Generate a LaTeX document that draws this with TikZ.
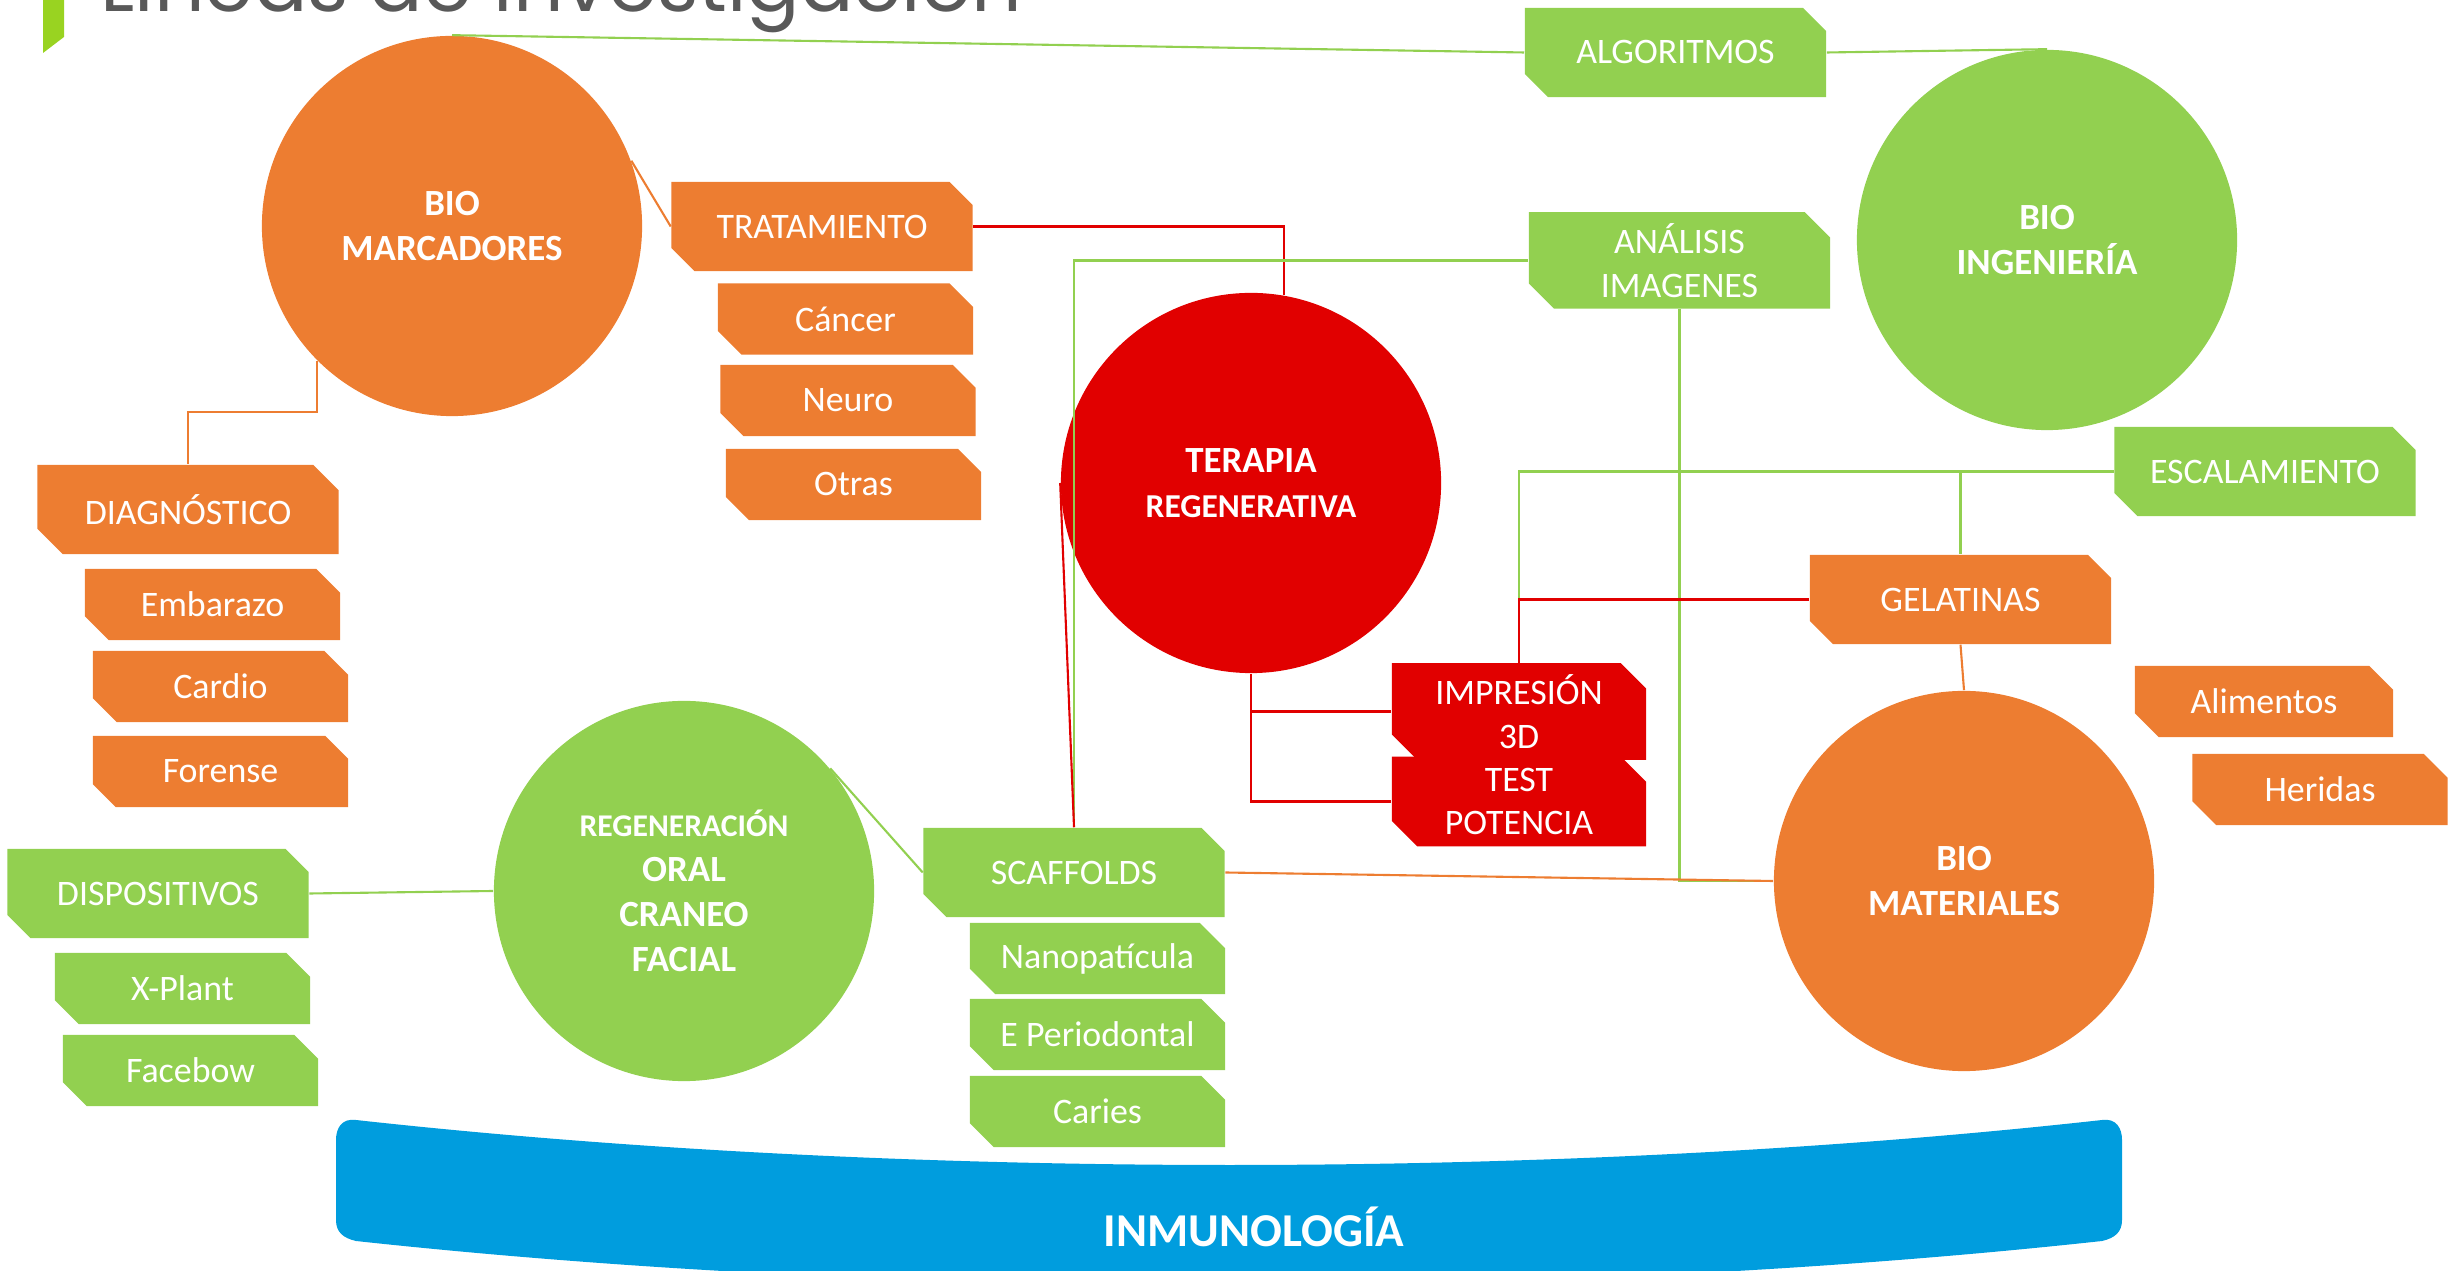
\documentclass[tikz,border=0pt]{standalone}
\usepackage{fontspec}
\setmainfont{Carlito}
\newfontfamily\titlefont{Poppins}
\usetikzlibrary{shapes.misc}
\definecolor{naranja}{HTML}{ED7D31}
\definecolor{verde}{HTML}{92D050}
\definecolor{rojo}{HTML}{E10000}
\definecolor{azul}{HTML}{009DDE}
\definecolor{gristit}{HTML}{595959}
\definecolor{verdebar}{HTML}{99D321}
\begin{document}
\begin{tikzpicture}[x=0.01cm,y=-0.01cm,
		linea/.style={line width=0.6pt},
		area/.style={circle,minimum size=3.8cm,inner sep=0pt,text=white,align=center,font=\bfseries\fontsize{10.5}{12.8}\selectfont},
		caja/.style={chamfered rectangle,chamfered rectangle corners={north east,south west},chamfered rectangle xsep=4pt,minimum width=3.01cm,minimum height=0.89cm,inner sep=0pt,text=white,align=center,font=\fontsize{10.2}{12.5}\selectfont},
		subcaja/.style={caja,minimum width=2.55cm,minimum height=0.71cm}]
		\useasboundingbox (0,0) rectangle (2458,1271);
		% titulo
		\fill[verdebar] (43,0) -- (64,0) -- (64,37) -- (43,53) -- cycle;
		\node[anchor=base west,inner sep=0pt,text=gristit,font=\titlefont\fontsize{22.5}{24}\selectfont] (titulo) at (100,12) {Líneas de Investigación};
		% inmunologia
		\fill[azul] (356,1120) .. controls (900,1180) and (1560,1180) .. (2102,1120) .. controls (2116,1118) and (2122,1128) .. (2122,1140) -- (2122,1220) .. controls (2122,1232) and (2115,1238) .. (2102,1241) .. controls (1560,1300) and (900,1300) .. (356,1241) .. controls (343,1238) and (336,1232) .. (336,1220) -- (336,1140) .. controls (336,1128) and (342,1118) .. (356,1120) -- cycle;
		\node[anchor=base,inner sep=0pt,text=white,font=\bfseries\fontsize{13.4}{15}\selectfont] (inmuno) at (1254,1246) {INMUNOLOGÍA};
		% areas
		\node[area,fill=naranja] (bm) at (452,226) {BIO\\MARCADORES};
		\node[area,fill=verde] (bi) at (2047,240) {BIO\\INGENIERÍA};
		\node[area,fill=rojo] (tr) at (1251,483) {TERAPIA\\\fontsize{9.5}{12.2}\selectfont REGENERATIVA};
		\node[area,fill=verde] (reg) at (684,891) {\fontsize{9}{12.2}\selectfont REGENERACIÓN\\ORAL\\CRANEO\\FACIAL};
		\node[area,fill=naranja] (bmat) at (1964,881) {BIO\\MATERIALES};
		% lineas
		\node[caja,fill=naranja] (trat) at (822,226.5) {TRATAMIENTO};
		\node[subcaja,fill=naranja] (canc) at (845.5,319) {Cáncer};
		\node[subcaja,fill=naranja] (neuro) at (848,400.5) {Neuro};
		\node[subcaja,fill=naranja] (otras) at (853.5,484.5) {Otras};
		\node[caja,fill=naranja] (diag) at (188,509.5) {DIAGNÓSTICO};
		\node[subcaja,fill=naranja] (emb) at (212.5,604.5) {Embarazo};
		\node[subcaja,fill=naranja] (card) at (220.5,686.5) {Cardio};
		\node[subcaja,fill=naranja] (foren) at (220.5,771.5) {Forense};
		\node[caja,fill=verde] (disp) at (158,893.5) {DISPOSITIVOS};
		\node[subcaja,fill=verde] (xpl) at (182.5,988.5) {X-Plant};
		\node[subcaja,fill=verde] (fb) at (190.5,1070.5) {Facebow};
		\node[caja,fill=verde] (sc) at (1074,872.5) {SCAFFOLDS};
		\node[subcaja,fill=verde] (nano) at (1097.5,958.5) {Nanopatícula};
		\node[subcaja,fill=verde] (eper) at (1097.5,1034.5) {E Periodontal};
		\node[subcaja,fill=verde] (caries) at (1097.5,1111.5) {Caries};
		\node[caja,fill=verde] (alg) at (1675.5,52.5) {ALGORITMOS};
		\node[caja,fill=verde] (ai) at (1679.5,260.5) {ANÁLISIS\\IMAGENES};
		\node[caja,fill=verde] (esc) at (2265,471.5) {ESCALAMIENTO};
		\node[caja,fill=naranja] (gel) at (1960.5,599.5) {GELATINAS};
		\node[subcaja,fill=naranja,minimum width=2.58cm] (alim) at (2264,701.5) {Alimentos};
		\node[subcaja,fill=naranja] (her) at (2320,789.5) {Heridas};
		\node[subcaja,fill=rojo,minimum width=2.54cm,minimum height=0.77cm] (imp) at (1519,711.5) {IMPRESIÓN\\3D};
		\node[subcaja,fill=rojo,minimum width=2.54cm,minimum height=0.87cm] (tp) at (1519,801.5) {TEST\\POTENCIA};
		% conectores
		\draw[linea,verde] (bm.north) -- (alg.west);
		\draw[linea,verde] (alg.east) -- (bi.north);
		\draw[linea,naranja] (bm.20) -- (trat.west);
		\draw[linea,rojo] (trat.east) -| (tr.80);
		\draw[linea,verde] (ai.west) -| (sc.north);
		\draw[linea,rojo] (tr.west) -- (sc.north);
		\draw[linea,verde] (ai.south) |- (bmat.west);
		\draw[linea,naranja] (sc.east) -- (bmat.west);
		\draw[linea,verde] (esc.west) -| (imp.north);
		\draw[linea,verde] (esc.west) -| (gel.north);
		\draw[linea,rojo] (gel.west) -| (imp.north);
		\draw[linea,naranja] (gel.south) -- (bmat.north);
		\draw[linea,rojo] (tr.south) |- (imp.west);
		\draw[linea,rojo] (tr.south) |- (tp.west);
		\draw[linea,naranja] (bm.225) -- ++(0,51) -| (diag.north);
		\draw[linea,verde] (reg.west) -- (disp.east);
		\draw[linea,verde] (reg.40) -- (sc.west);
	\end{tikzpicture}
\end{document}
